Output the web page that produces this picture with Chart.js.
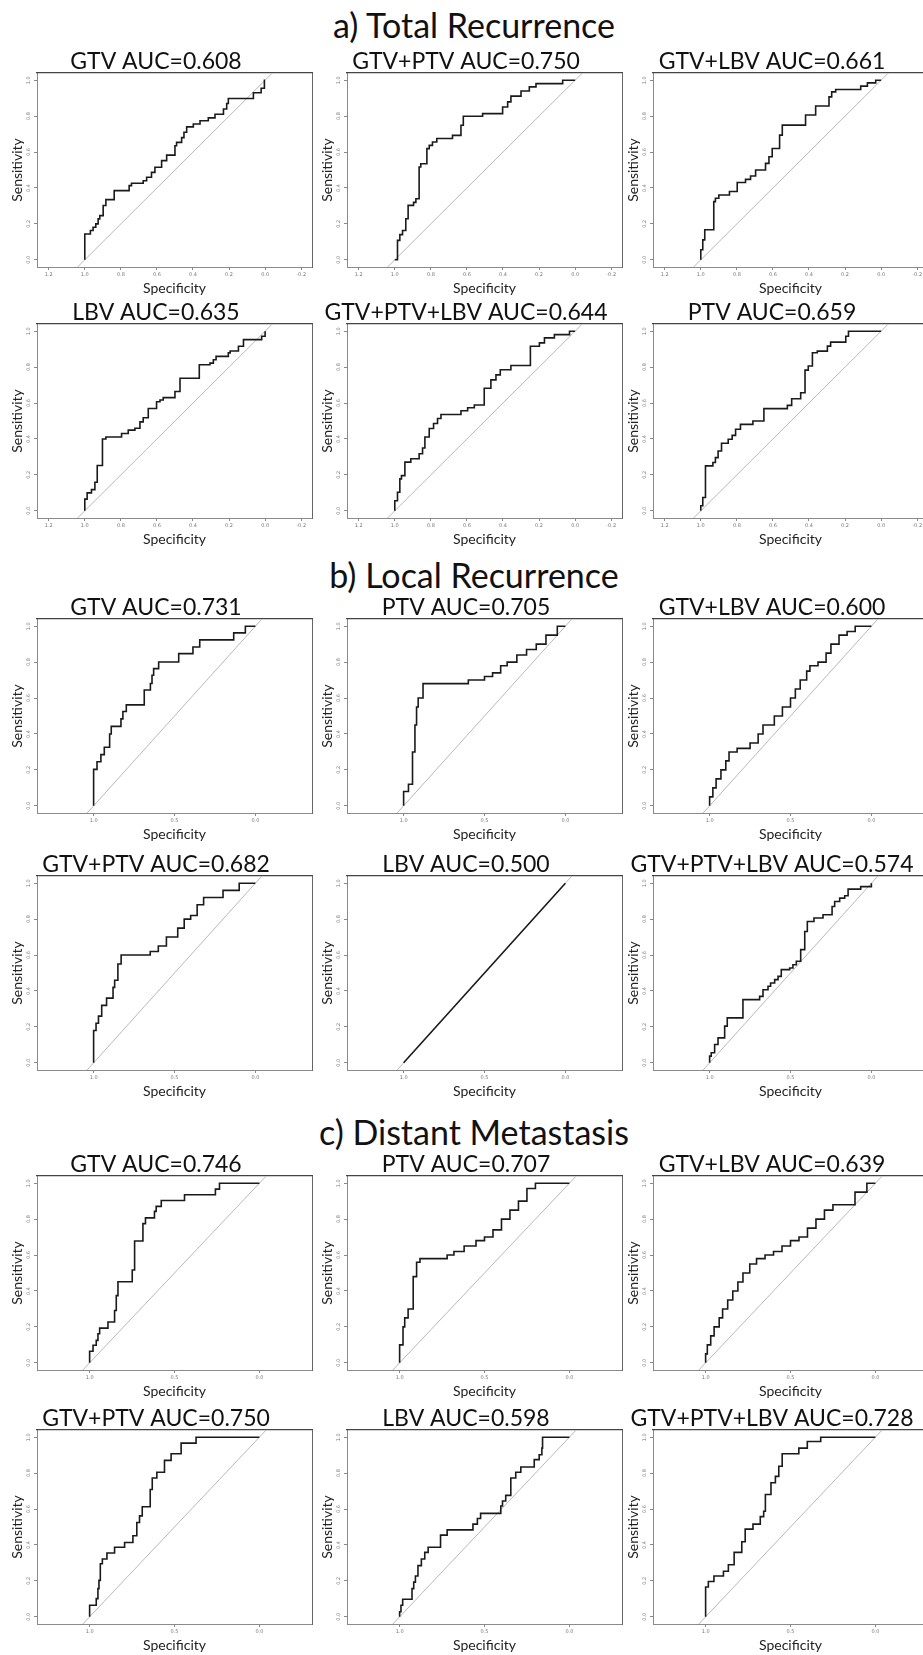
<!DOCTYPE html>
<html>
<head>
<meta charset="utf-8">
<script src="https://cdn.jsdelivr.net/npm/chart.js@4.4.1/dist/chart.umd.min.js"></script>
<style>
  html, body { margin: 0; padding: 0; background: #fff; overflow: hidden; }
  #page { position: relative; width: 923px; height: 1655px; overflow: hidden; background: #fff; }
  .section { position: absolute; left: 0; width: 948px; text-align: center; font-family: Lato, 'Open Sans', sans-serif;
             font-size: 34px; line-height: 34px; color: #111; white-space: nowrap; }
  canvas { position: absolute; }
</style>
</head>
<body>
<div id="page"></div>
<script>
// ---- tick labels / reference line ----
var xTicksTotal = [-0.2, 0, 0.2, 0.4, 0.6, 0.8, 1.0, 1.2];
var xTicksShort = [0, 0.5, 1.0];
var yTicks = [0, 0.2, 0.4, 0.6, 0.8, 1.0];
var diagSpec = [1.1, -0.1];
var diagSens = [-0.1, 1.1];

var sectionTitles = ['a) Total Recurrence', 'b) Local Recurrence', 'c) Distant Metastasis'];

// ---- a) Total Recurrence ----
var totGtvSpec = [1, 0.969, 0.954, 0.939, 0.926, 0.917, 0.898, 0.883, 0.837, 0.754, 0.741, 0.676, 0.657, 0.63, 0.611, 0.574, 0.546, 0.5, 0.491, 0.463, 0.45, 0.435, 0.398, 0.361, 0.315, 0.278, 0.231, 0.213, 0.204, 0.065, 0.022, 0.004, 0];
var totGtvSens = [0, 0.144, 0.163, 0.181, 0.2, 0.228, 0.246, 0.302, 0.335, 0.385, 0.413, 0.426, 0.44, 0.46, 0.487, 0.515, 0.552, 0.583, 0.635, 0.654, 0.68, 0.71, 0.74, 0.756, 0.774, 0.79, 0.81, 0.84, 0.87, 0.898, 0.93, 0.955, 1.0];

var totGtvPtvSpec = [1, 0.985, 0.972, 0.957, 0.939, 0.926, 0.896, 0.883, 0.865, 0.856, 0.822, 0.809, 0.791, 0.767, 0.68, 0.633, 0.62, 0.513, 0.402, 0.374, 0.356, 0.3, 0.254, 0.217, 0.069, 0];
var totGtvPtvSens = [0, 0, 0.108, 0.14, 0.163, 0.229, 0.303, 0.32, 0.34, 0.517, 0.535, 0.619, 0.637, 0.656, 0.675, 0.693, 0.749, 0.799, 0.814, 0.851, 0.879, 0.911, 0.94, 0.963, 0.981, 1.0];

var totGtvLbvSpec = [1, 0.989, 0.978, 0.928, 0.919, 0.9, 0.841, 0.798, 0.752, 0.724, 0.696, 0.641, 0.622, 0.604, 0.563, 0.548, 0.419, 0.363, 0.289, 0.274, 0.252, 0.113, 0.076, 0.03, 0];
var totGtvLbvSens = [0, 0.056, 0.111, 0.167, 0.324, 0.343, 0.361, 0.38, 0.43, 0.448, 0.467, 0.5, 0.537, 0.574, 0.62, 0.694, 0.75, 0.806, 0.856, 0.907, 0.935, 0.948, 0.967, 0.985, 1.0];

var totLbvSpec = [1, 0.987, 0.963, 0.944, 0.931, 0.902, 0.883, 0.796, 0.759, 0.722, 0.694, 0.676, 0.648, 0.602, 0.583, 0.565, 0.5, 0.472, 0.365, 0.306, 0.287, 0.272, 0.204, 0.194, 0.148, 0.12, 0.019, 0, 0];
var totLbvSens = [0, 0.065, 0.1, 0.118, 0.159, 0.252, 0.4, 0.411, 0.43, 0.449, 0.46, 0.495, 0.518, 0.57, 0.607, 0.617, 0.63, 0.664, 0.738, 0.813, 0.822, 0.841, 0.86, 0.879, 0.89, 0.916, 0.953, 0.972, 1.0];

var totAllSpec = [1, 0.985, 0.972, 0.963, 0.944, 0.911, 0.865, 0.846, 0.833, 0.809, 0.785, 0.763, 0.744, 0.633, 0.596, 0.559, 0.504, 0.467, 0.439, 0.415, 0.356, 0.248, 0.198, 0.17, 0.115, 0.031, 0];
var totAllSens = [0, 0.056, 0.103, 0.178, 0.196, 0.271, 0.29, 0.318, 0.35, 0.411, 0.458, 0.486, 0.514, 0.536, 0.557, 0.574, 0.589, 0.682, 0.729, 0.757, 0.785, 0.809, 0.916, 0.935, 0.963, 0.981, 1.0];

var totPtvSpec = [1, 0.989, 0.974, 0.933, 0.919, 0.904, 0.885, 0.848, 0.826, 0.807, 0.78, 0.711, 0.65, 0.52, 0.496, 0.446, 0.422, 0.404, 0.381, 0.354, 0.298, 0.28, 0.196, 0.181, 0];
var totPtvSens = [0, 0.028, 0.074, 0.25, 0.269, 0.296, 0.333, 0.376, 0.398, 0.42, 0.454, 0.481, 0.5, 0.569, 0.587, 0.624, 0.657, 0.783, 0.806, 0.88, 0.889, 0.917, 0.939, 0.972, 1.0];

// ---- b) Local Recurrence ----
var locGtvSpec = [1, 0.979, 0.955, 0.934, 0.901, 0.891, 0.831, 0.819, 0.798, 0.687, 0.649, 0.639, 0.629, 0.598, 0.474, 0.386, 0.344, 0.134, 0.062, 0];
var locGtvSens = [0, 0.203, 0.245, 0.285, 0.326, 0.4, 0.442, 0.484, 0.525, 0.562, 0.645, 0.681, 0.727, 0.764, 0.801, 0.847, 0.884, 0.924, 0.963, 1.0];

var locPtvSpec = [1, 0.97, 0.945, 0.93, 0.92, 0.91, 0.88, 0.6, 0.5, 0.45, 0.4, 0.36, 0.3, 0.24, 0.18, 0.12, 0.05, 0];
var locPtvSens = [0, 0.08, 0.12, 0.3, 0.45, 0.55, 0.6, 0.68, 0.7, 0.72, 0.74, 0.78, 0.8, 0.84, 0.87, 0.9, 0.95, 1.0];

var locGtvLbvSpec = [1, 0.98, 0.96, 0.93, 0.9, 0.88, 0.83, 0.75, 0.7, 0.67, 0.6, 0.55, 0.5, 0.47, 0.44, 0.4, 0.38, 0.33, 0.28, 0.25, 0.2, 0.15, 0.1, 0.05, 0];
var locGtvLbvSens = [0, 0.05, 0.1, 0.15, 0.2, 0.25, 0.3, 0.32, 0.35, 0.4, 0.45, 0.5, 0.55, 0.6, 0.65, 0.7, 0.75, 0.78, 0.8, 0.85, 0.9, 0.95, 0.97, 1.0, 1.0];

var locGtvPtvSpec = [1, 0.985, 0.97, 0.95, 0.92, 0.88, 0.87, 0.85, 0.83, 0.65, 0.6, 0.55, 0.48, 0.44, 0.4, 0.36, 0.32, 0.2, 0.1, 0];
var locGtvPtvSens = [0, 0.18, 0.22, 0.26, 0.32, 0.36, 0.42, 0.46, 0.55, 0.6, 0.62, 0.65, 0.7, 0.75, 0.8, 0.82, 0.88, 0.92, 0.96, 1.0];

var locLbvSpec = [1, 0];
var locLbvSens = [0, 1];

var locAllSpec = [1, 0.99, 0.969, 0.948, 0.907, 0.891, 0.794, 0.691, 0.67, 0.639, 0.623, 0.598, 0.577, 0.557, 0.505, 0.485, 0.464, 0.437, 0.412, 0.396, 0.355, 0.299, 0.243, 0.227, 0.196, 0.165, 0.144, 0.066, 0, 0];
var locAllSens = [0, 0.037, 0.056, 0.102, 0.139, 0.204, 0.25, 0.352, 0.37, 0.407, 0.426, 0.444, 0.463, 0.481, 0.519, 0.528, 0.546, 0.565, 0.63, 0.731, 0.787, 0.806, 0.824, 0.87, 0.898, 0.917, 0.93, 0.967, 0.981, 1.0];

// ---- c) Distant Metastasis ----
var disGtvSpec = [1, 0.98, 0.961, 0.951, 0.941, 0.892, 0.853, 0.843, 0.833, 0.749, 0.735, 0.686, 0.671, 0.618, 0.608, 0.578, 0.441, 0.259, 0.235, 0];
var disGtvSens = [0, 0.064, 0.098, 0.125, 0.162, 0.193, 0.227, 0.291, 0.374, 0.451, 0.517, 0.678, 0.775, 0.807, 0.843, 0.871, 0.904, 0.936, 0.967, 1.0];

var disPtvSpec = [1, 0.98, 0.97, 0.95, 0.92, 0.9, 0.88, 0.72, 0.68, 0.62, 0.55, 0.5, 0.45, 0.4, 0.35, 0.3, 0.25, 0.2, 0];
var disPtvSens = [0, 0.1, 0.2, 0.25, 0.3, 0.48, 0.56, 0.58, 0.6, 0.62, 0.65, 0.68, 0.7, 0.74, 0.8, 0.85, 0.9, 0.97, 1.0];

var disGtvLbvSpec = [1, 0.99, 0.97, 0.95, 0.92, 0.9, 0.87, 0.84, 0.81, 0.78, 0.74, 0.7, 0.65, 0.6, 0.55, 0.5, 0.45, 0.4, 0.35, 0.3, 0.25, 0.12, 0.05, 0];
var disGtvLbvSens = [0, 0.05, 0.1, 0.15, 0.2, 0.25, 0.3, 0.35, 0.4, 0.45, 0.5, 0.55, 0.58, 0.6, 0.62, 0.65, 0.68, 0.7, 0.75, 0.8, 0.85, 0.88, 0.95, 1.0];

var disGtvPtvSpec = [1, 0.961, 0.951, 0.945, 0.937, 0.925, 0.898, 0.853, 0.794, 0.745, 0.722, 0.706, 0.69, 0.643, 0.631, 0.604, 0.559, 0.52, 0.461, 0.373, 0];
var disGtvPtvSens = [0, 0.064, 0.101, 0.157, 0.203, 0.295, 0.322, 0.355, 0.387, 0.414, 0.451, 0.525, 0.562, 0.613, 0.709, 0.773, 0.805, 0.871, 0.908, 0.967, 1.0];

var disLbvSpec = [1, 0.992, 0.982, 0.927, 0.917, 0.907, 0.892, 0.872, 0.852, 0.832, 0.759, 0.72, 0.568, 0.542, 0.523, 0.404, 0.394, 0.375, 0.345, 0.316, 0.286, 0.207, 0.178, 0.162, 0.158, 0];
var disLbvSens = [0, 0.028, 0.064, 0.098, 0.157, 0.193, 0.227, 0.285, 0.322, 0.359, 0.387, 0.455, 0.484, 0.516, 0.547, 0.576, 0.617, 0.645, 0.676, 0.773, 0.805, 0.834, 0.875, 0.902, 0.939, 1.0];

var disAllSpec = [1, 0.984, 0.951, 0.895, 0.866, 0.832, 0.787, 0.767, 0.721, 0.678, 0.658, 0.648, 0.615, 0.589, 0.569, 0.549, 0.451, 0.401, 0.322, 0];
var disAllSens = [0, 0.166, 0.197, 0.227, 0.254, 0.29, 0.359, 0.418, 0.488, 0.516, 0.558, 0.588, 0.681, 0.746, 0.782, 0.838, 0.908, 0.939, 0.976, 1.0];

var panels = [
  { sec: 0, row: 0, col: 0, title: 'GTV AUC=0.608', spec: totGtvSpec, sens: totGtvSens },
  { sec: 0, row: 0, col: 1, title: 'GTV+PTV AUC=0.750', spec: totGtvPtvSpec, sens: totGtvPtvSens },
  { sec: 0, row: 0, col: 2, title: 'GTV+LBV AUC=0.661', spec: totGtvLbvSpec, sens: totGtvLbvSens },
  { sec: 0, row: 1, col: 0, title: 'LBV AUC=0.635', spec: totLbvSpec, sens: totLbvSens },
  { sec: 0, row: 1, col: 1, title: 'GTV+PTV+LBV AUC=0.644', spec: totAllSpec, sens: totAllSens },
  { sec: 0, row: 1, col: 2, title: 'PTV AUC=0.659', spec: totPtvSpec, sens: totPtvSens },
  { sec: 1, row: 2, col: 0, title: 'GTV AUC=0.731', spec: locGtvSpec, sens: locGtvSens },
  { sec: 1, row: 2, col: 1, title: 'PTV AUC=0.705', spec: locPtvSpec, sens: locPtvSens },
  { sec: 1, row: 2, col: 2, title: 'GTV+LBV AUC=0.600', spec: locGtvLbvSpec, sens: locGtvLbvSens },
  { sec: 1, row: 3, col: 0, title: 'GTV+PTV AUC=0.682', spec: locGtvPtvSpec, sens: locGtvPtvSens },
  { sec: 1, row: 3, col: 1, title: 'LBV AUC=0.500', spec: locLbvSpec, sens: locLbvSens, straight: true },
  { sec: 1, row: 3, col: 2, title: 'GTV+PTV+LBV AUC=0.574', spec: locAllSpec, sens: locAllSens },
  { sec: 2, row: 4, col: 0, title: 'GTV AUC=0.746', spec: disGtvSpec, sens: disGtvSens },
  { sec: 2, row: 4, col: 1, title: 'PTV AUC=0.707', spec: disPtvSpec, sens: disPtvSens },
  { sec: 2, row: 4, col: 2, title: 'GTV+LBV AUC=0.639', spec: disGtvLbvSpec, sens: disGtvLbvSens },
  { sec: 2, row: 5, col: 0, title: 'GTV+PTV AUC=0.750', spec: disGtvPtvSpec, sens: disGtvPtvSens },
  { sec: 2, row: 5, col: 1, title: 'LBV AUC=0.598', spec: disLbvSpec, sens: disLbvSens },
  { sec: 2, row: 5, col: 2, title: 'GTV+PTV+LBV AUC=0.728', spec: disAllSpec, sens: disAllSens }
];

// ---- layout ----
var sectionTop = [8, 558, 1115];
var boxLeft = [37, 347, 653];
var boxTop = [73, 324, 619, 876, 1176, 1430];
var boxW = 275, boxH = 194;
var yAxisW = 37, titleH = 23, xAxisH = 32, padRight = 36;
var xRange = [[-0.26, 1.265], [-0.35, 1.35], [-0.31, 1.31]];
var xTickSets = [xTicksTotal, xTicksShort, xTicksShort];
var FONT = "Lato, 'Open Sans', sans-serif";

var page = document.getElementById('page');

sectionTitles.forEach(function(t, i) {
  var d = document.createElement('div');
  d.className = 'section';
  d.style.top = sectionTop[i] + 'px';
  d.textContent = t;
  page.appendChild(d);
});

// ROC step curve: rise at previous specificity, then run left
function stairs(spec, sens, stepped) {
  var pts = [{ x: spec[0], y: sens[0] }];
  for (var i = 1; i < spec.length; i++) {
    if (stepped) pts.push({ x: spec[i - 1], y: sens[i] });
    pts.push({ x: spec[i], y: sens[i] });
  }
  return pts;
}

function setTicks(values) {
  return function(scale) {
    scale.ticks = values.map(function(v) { return { value: v }; });
  };
}

panels.forEach(function(p) {
  var cv = document.createElement('canvas');
  var w = yAxisW + boxW + padRight, h = titleH + boxH + xAxisH;
  cv.width = w; cv.height = h;
  cv.style.width = w + 'px'; cv.style.height = h + 'px';
  cv.style.left = (boxLeft[p.col] - yAxisW) + 'px';
  cv.style.top = (boxTop[p.row] - titleH) + 'px';
  page.appendChild(cv);

  var xr = xRange[p.sec];
  var tickFont = { family: 'DejaVu Sans', size: 5 };

  new Chart(cv, {
    type: 'line',
    data: {
      datasets: [
        { data: stairs(p.spec, p.sens, !p.straight), borderColor: '#1a1a1a', borderWidth: 1.6,
          pointRadius: 0, fill: false, tension: 0 },
        { data: stairs(diagSpec, diagSens, false), borderColor: '#b8b8b8', borderWidth: 1,
          pointRadius: 0, fill: false, tension: 0 }
      ]
    },
    options: {
      responsive: false,
      animation: false,
      devicePixelRatio: 1,
      events: [],
      layout: { padding: { left: 0, right: padRight, top: 0, bottom: 0 } },
      plugins: {
        legend: { display: false },
        tooltip: { enabled: false },
        title: { display: true, text: p.title, color: '#111',
                 font: { family: FONT, size: 23, weight: 'normal', lineHeight: 1 },
                 padding: { top: 0, bottom: 0 } }
      },
      scales: {
        x: {
          type: 'linear', position: 'bottom', reverse: true, min: xr[0], max: xr[1],
          afterBuildTicks: setTicks(xTickSets[p.sec]),
          afterFit: function(s) { s.height = xAxisH; },
          grid: { display: true, drawOnChartArea: false, drawTicks: true, tickLength: 3, color: '#888' },
          border: { display: true, color: '#8a8a8a', width: 1 },
          ticks: { font: tickFont, color: '#777', padding: 2, minRotation: 0, maxRotation: 0, autoSkip: false,
                   callback: function(v) { return Number(v).toFixed(1); } },
          title: { display: true, text: 'Specificity', color: '#222',
                   font: { family: FONT, size: 14 }, padding: { top: 0, bottom: 2 } }
        },
        y: {
          type: 'linear', position: 'left', min: -0.04, max: 1.04,
          afterBuildTicks: setTicks(yTicks),
          afterFit: function(s) { s.width = yAxisW; },
          grid: { display: true, drawOnChartArea: false, drawTicks: true, tickLength: 3, color: '#888' },
          border: { display: true, color: '#8a8a8a', width: 1 },
          ticks: { font: tickFont, color: '#777', padding: 1, minRotation: 90, maxRotation: 90,
                   crossAlign: 'center', autoSkip: false,
                   callback: function(v) { return Number(v).toFixed(1); } },
          title: { display: true, text: 'Sensitivity', color: '#222',
                   font: { family: FONT, size: 14 }, padding: { top: 9, bottom: 0 } }
        },
        x2: {
          type: 'linear', position: 'top', reverse: true, min: xr[0], max: xr[1],
          afterFit: function(s) { s.height = 0; },
          grid: { display: false, drawTicks: false },
          border: { display: true, color: '#444', width: 1.2 },
          ticks: { display: false }
        },
        y2: {
          type: 'linear', position: 'right', min: -0.04, max: 1.04,
          afterFit: function(s) { s.width = 0; },
          grid: { display: false, drawTicks: false },
          border: { display: true, color: '#666', width: 1 },
          ticks: { display: false }
        }
      }
    }
  });
});
</script>
</body>
</html>
